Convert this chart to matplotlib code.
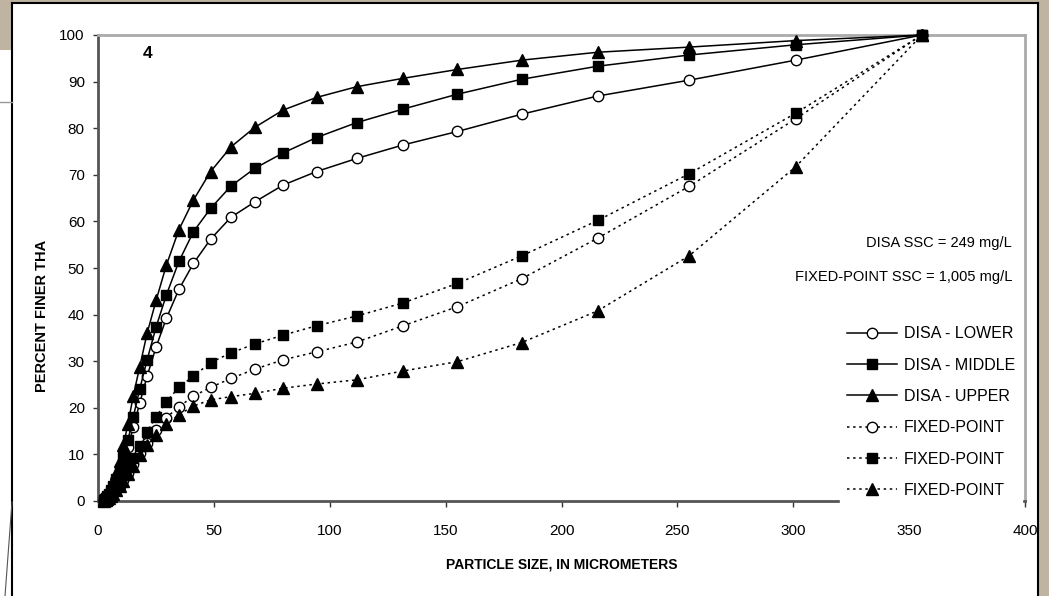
import numpy as np
import matplotlib.pyplot as plt
from matplotlib.patches import Rectangle
from matplotlib.lines import Line2D

plt.rcParams['font.family'] = ['Liberation Sans', 'DejaVu Sans']

# particle size (micrometers), shared by all six curves
size_um = [2.47, 2.92, 3.44, 4.06, 4.79, 5.65, 6.67, 7.87, 9.29, 11.0,
           12.9, 15.2, 18.0, 21.2, 25.1, 29.5, 34.9, 41.2, 48.6, 57.4,
           67.7, 79.9, 94.3, 111.6, 131.6, 155.1, 182.8, 215.6, 255.0, 301.0,
           355.5]

disa_lower = [0.15, 0.3, 0.5, 0.8, 1.2, 1.9, 2.8, 4.0, 5.8, 8.3,
              11.5, 15.8, 21.0, 26.8, 33.1, 39.2, 45.4, 51.0, 56.2, 60.9,
              64.2, 67.8, 70.7, 73.5, 76.4, 79.3, 83.0, 86.9, 90.3, 94.6,
              100]
disa_middle = [0.2, 0.35, 0.6, 1.0, 1.5, 2.3, 3.3, 4.7, 6.7, 9.5,
               13.0, 18.0, 24.0, 30.3, 37.4, 44.2, 51.4, 57.8, 62.8, 67.6,
               71.4, 74.7, 78.0, 81.2, 84.1, 87.3, 90.5, 93.3, 95.7, 97.9,
               100]
disa_upper = [0.3, 0.5, 0.8, 1.3, 2.0, 3.0, 4.3, 6.0, 8.5, 12.0,
              16.5, 22.5, 28.8, 36.0, 43.1, 50.6, 58.2, 64.6, 70.7, 76.0,
              80.2, 83.9, 86.6, 88.9, 90.7, 92.6, 94.6, 96.3, 97.4, 98.8,
              100]
fixed_circle = [0.05, 0.15, 0.3, 0.5, 0.8, 1.2, 1.7, 2.4, 3.3, 4.5,
                6.0, 8.0, 10.2, 12.5, 15.2, 17.9, 20.2, 22.5, 24.4, 26.3,
                28.3, 30.3, 32.0, 34.1, 37.6, 41.7, 47.7, 56.4, 67.5, 82.0,
                100]
fixed_square = [0.1, 0.2, 0.35, 0.6, 1.0, 1.5, 2.2, 3.0, 4.1, 5.5,
                7.2, 9.2, 11.7, 14.9, 18.1, 21.3, 24.4, 26.8, 29.7, 31.8,
                33.7, 35.6, 37.6, 39.7, 42.5, 46.7, 52.6, 60.2, 70.2, 83.2,
                100]
fixed_triangle = [0.05, 0.15, 0.25, 0.45, 0.7, 1.1, 1.6, 2.3, 3.2, 4.3,
                  5.8, 7.6, 9.8, 12.0, 14.2, 16.5, 18.5, 20.4, 21.7, 22.4,
                  23.1, 24.2, 25.1, 26.0, 27.9, 29.9, 34.0, 40.8, 52.6, 71.7,
                  100]

x_ticks = [0, 50, 100, 150, 200, 250, 300, 350, 400]
y_ticks = [0, 10, 20, 30, 40, 50, 60, 70, 80, 90, 100]

W, H = 1049, 596
def fx(px):
    return px / W
def fy(py):
    return 1 - py / H

tan = '#bfb3a1'
fig = plt.figure(figsize=(W / 100, H / 100), dpi=100, facecolor='white')

# slide frame around the chart
for (x0, y0, x1, y1) in [(0, 0, W, 3), (1039, 0, W, H), (0, 0, 12, 50)]:
    fig.add_artist(Rectangle((fx(x0), fy(y1)), fx(x1) - fx(x0), fy(y0) - fy(y1),
                             transform=fig.transFigure, color=tan, lw=0, zorder=0))
for (xa, ya, xb, yb, c, w) in [(12, 3, 1038, 3, 'black', 1.5),
                               (12, 3, 12, H, 'black', 1.5),
                               (1038, 3, 1038, H, 'black', 1.5),
                               (0, 102, 12, 102, '#999999', 1.0),
                               (12, 502, 5, H, '#555555', 0.8)]:
    fig.add_artist(Line2D([fx(xa), fx(xb)], [fy(ya), fy(yb)],
                          transform=fig.transFigure, color=c, lw=w, zorder=1))

ax = fig.add_axes([fx(98), fy(501), fx(1025) - fx(98), fy(35) - fy(501)])
ax.set_facecolor('white')

dot = (0, (1.6, 2.4))
series = [
    (disa_lower, 'o', 'white', '-', 'DISA - LOWER', 7.5),
    (disa_middle, 's', 'black', '-', 'DISA - MIDDLE', 7),
    (disa_upper, '^', 'black', '-', 'DISA - UPPER', 8.5),
    (fixed_circle, 'o', 'white', dot, 'FIXED-POINT', 7.5),
    (fixed_square, 's', 'black', dot, 'FIXED-POINT', 7),
    (fixed_triangle, '^', 'black', dot, 'FIXED-POINT', 8.5),
]
for vals, mk, fc, ls, lab, ms in series:
    ax.plot(size_um, vals, color='black', lw=1.1, linestyle=ls, marker=mk,
            markersize=ms, markerfacecolor=fc, markeredgecolor='black',
            markeredgewidth=1.0, label=lab, clip_on=False, zorder=3)

ax.set_xlim(0, 400)
ax.set_ylim(0, 100)
ax.set_xticks(x_ticks)
ax.set_yticks(y_ticks)
ax.tick_params(axis='x', direction='out', length=4.5, width=1, color='#333333',
               pad=12, labelsize=11)
ax.tick_params(axis='y', direction='out', length=3.5, width=1, color='#333333',
               pad=6, labelsize=11)
# the 350 tick mark sits under the legend box in the original
ax.xaxis.get_major_ticks()[7].tick1line.set_visible(False)
for s in ['left', 'bottom']:
    ax.spines[s].set_color('#555555')
    ax.spines[s].set_linewidth(2)
for s in ['top', 'right']:
    ax.spines[s].set_color('#aaaaaa')
    ax.spines[s].set_linewidth(2)

ax.set_xlabel('PARTICLE SIZE, IN MICROMETERS', fontsize=10, fontweight='bold',
              labelpad=14)
fig.text(fx(42), fy(316), 'PERCENT FINER THA', rotation=90, fontsize=10.5,
         fontweight='bold', ha='center', va='center')

ax.text(0.053, 0.96, '4', transform=ax.transAxes, fontsize=12.5,
        fontweight='bold', ha='center', va='center')
fig.text(fx(1012), fy(243), 'DISA SSC = 249 mg/L', fontsize=10.5,
         ha='right', va='center')
fig.text(fx(1012), fy(277), 'FIXED-POINT SSC = 1,005 mg/L', fontsize=10.5,
         ha='right', va='center')

leg = ax.legend(loc='lower right', bbox_to_anchor=(fx(1022), fy(505)),
                bbox_transform=fig.transFigure, borderaxespad=0,
                frameon=True, fancybox=False, edgecolor='white',
                fontsize=11.5, handlelength=3.1, handletextpad=0.44,
                labelspacing=1.02, borderpad=0.45)
leg.get_frame().set_facecolor('white')
leg.get_frame().set_alpha(1)

fig.savefig('out.png', dpi=100, facecolor='white')
